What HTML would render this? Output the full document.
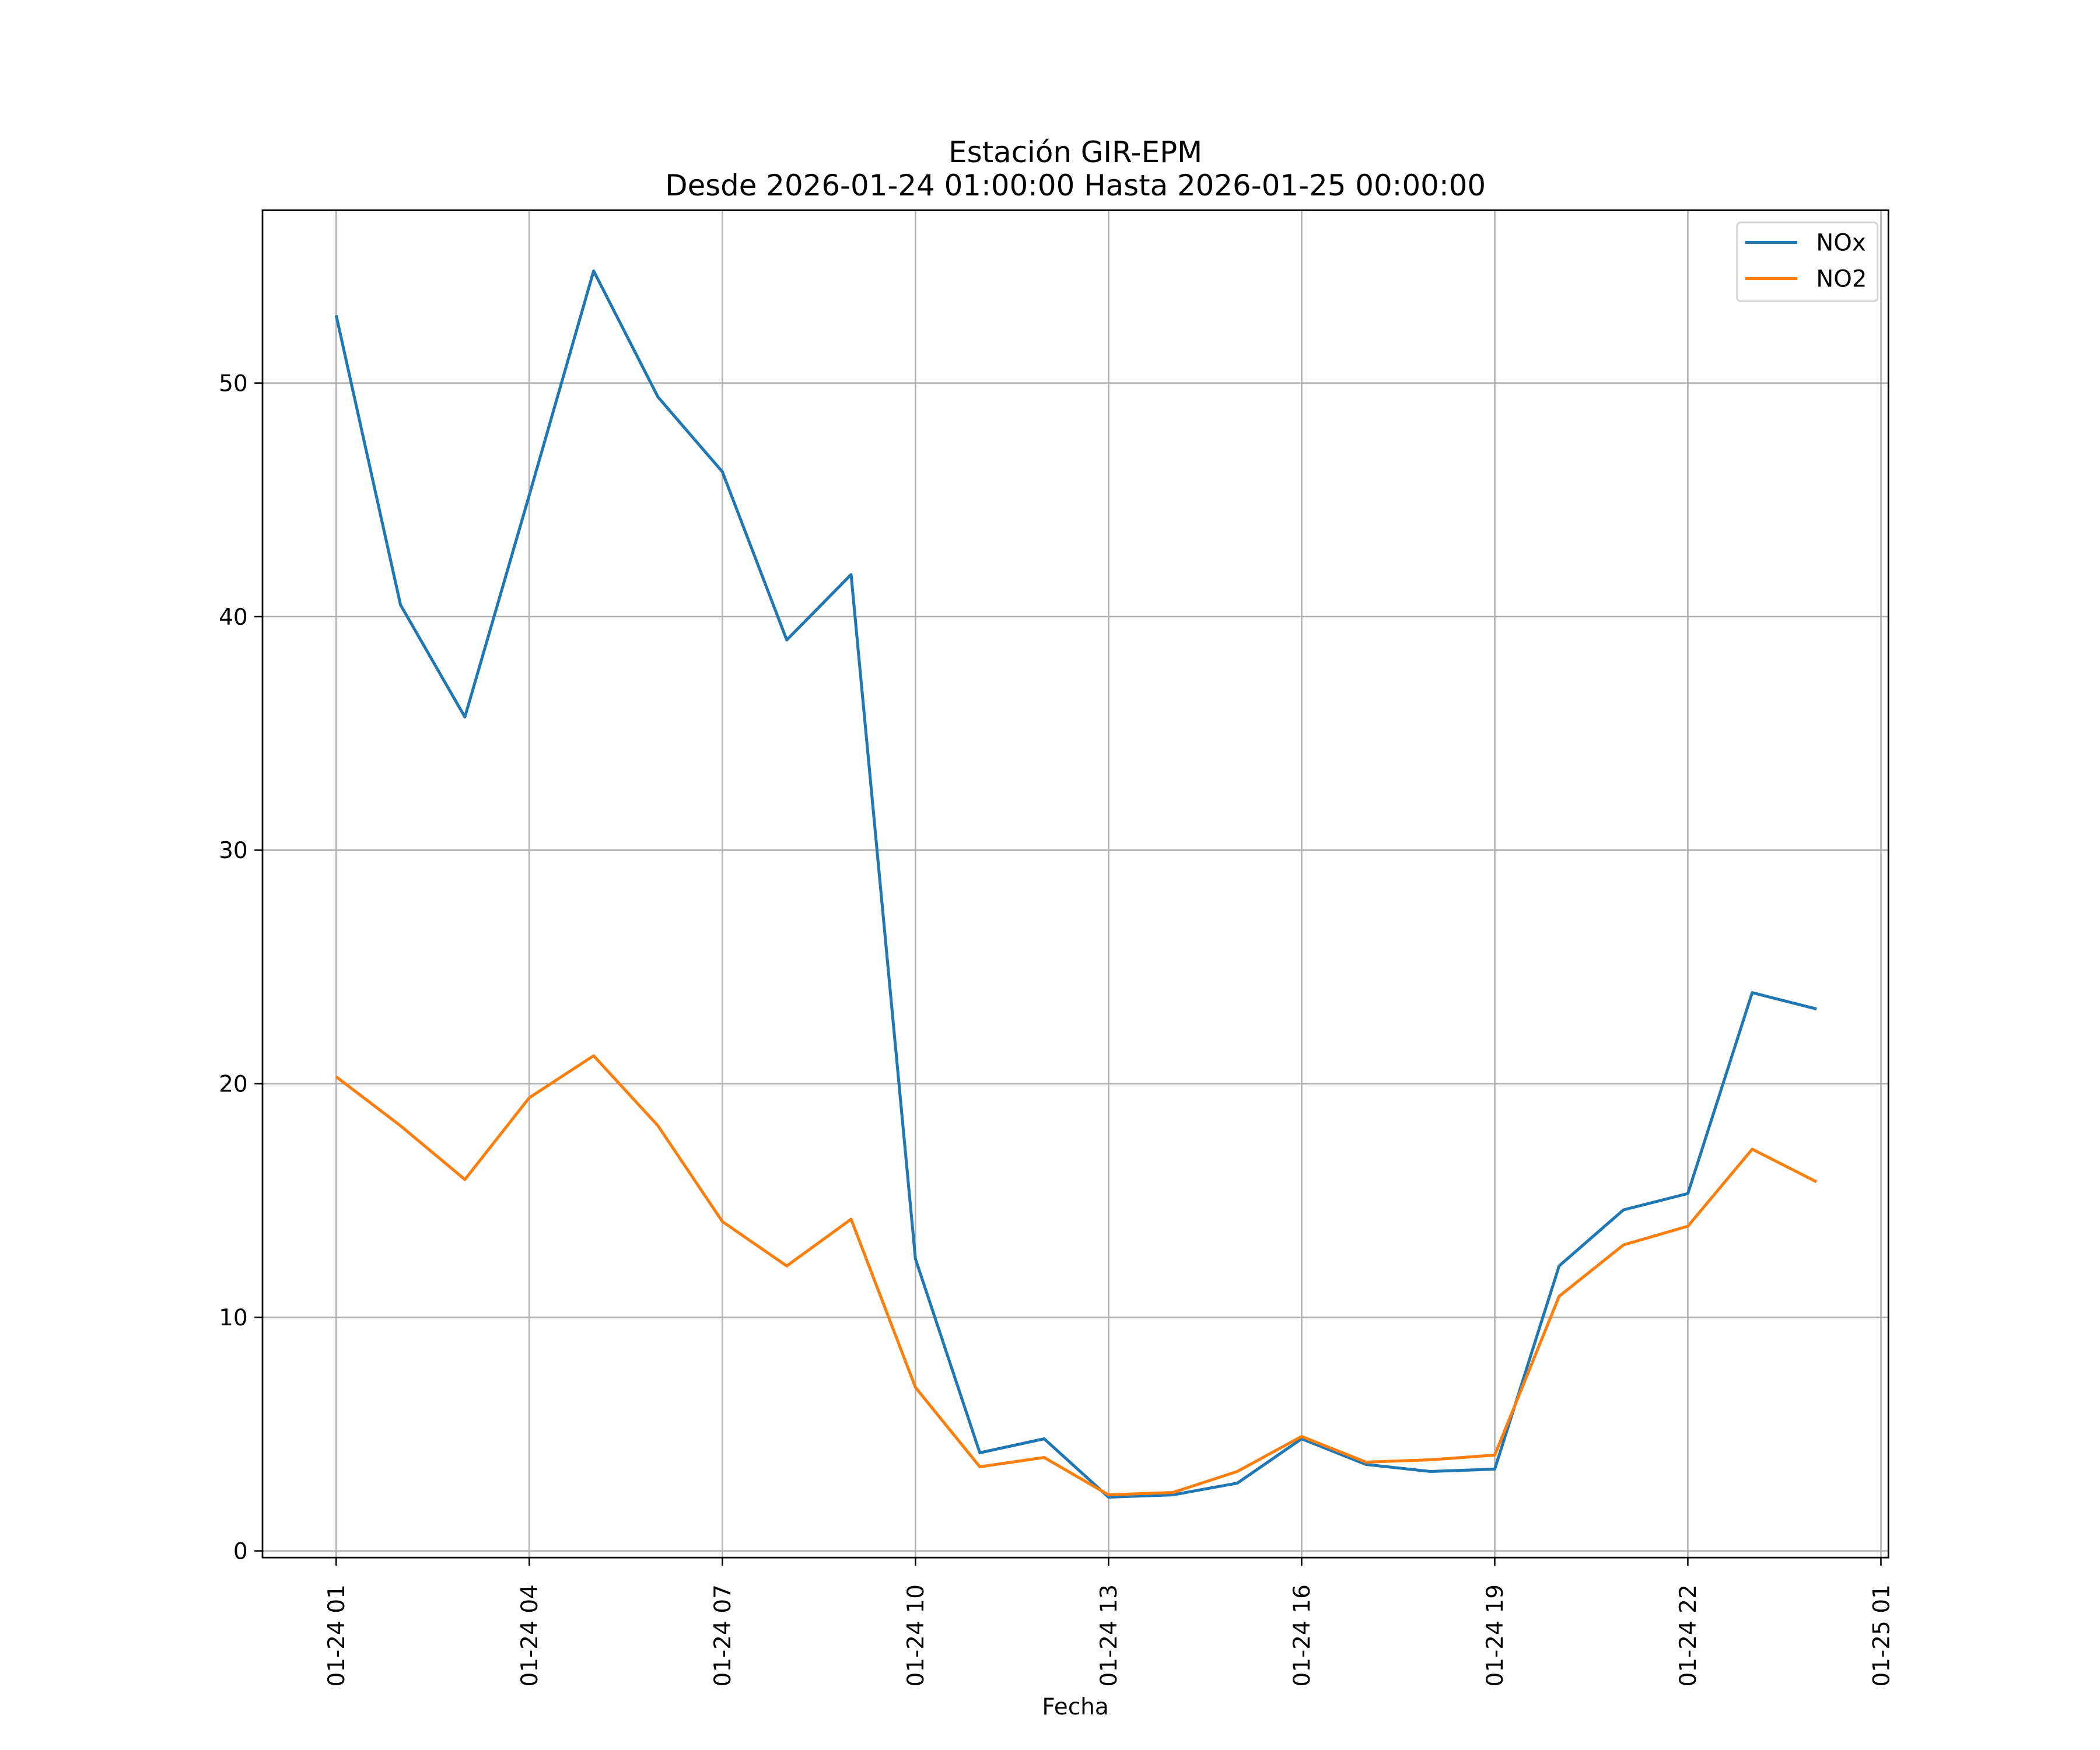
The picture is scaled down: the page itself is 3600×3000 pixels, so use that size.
<!DOCTYPE html>
<html><head><meta charset="utf-8"><style>
html,body{margin:0;padding:0;background:#fff;}
svg{display:block;}
text{font-family:"DejaVu Sans","Liberation Sans",sans-serif;fill:#000;}
</style></head><body>
<svg id="chart" width="3600" height="3000" viewBox="0 0 1568 1306.67" xmlns="http://www.w3.org/2000/svg">
<rect width="1568" height="1307" fill="#fff"/>
<g id="grid"></g>
<g id="series"></g>
<rect x="196" y="157" width="1214" height="1006" fill="none" stroke="#000" stroke-width="1.2"/>
<g id="ticks"></g>
<text x="803" y="121" font-size="21.7" text-anchor="middle">Estación GIR-EPM</text>
<text x="803" y="146" font-size="21.7" text-anchor="middle">Desde 2026-01-24 01:00:00 Hasta 2026-01-25 00:00:00</text>
<text x="803" y="1280" font-size="17" text-anchor="middle">Fecha</text>
<g>
<rect x="1297" y="166" width="105" height="59" fill="#fff" stroke="#d5d5d5" stroke-width="1.3" rx="3"/>
<line x1="1303" y1="181" x2="1342" y2="181" stroke="#1f77b4" stroke-width="2.2"/>
<text x="1356" y="187" font-size="17.5">NOx</text>
<line x1="1303" y1="208" x2="1342" y2="208" stroke="#ff7f0e" stroke-width="2.2"/>
<text x="1356" y="214" font-size="17.5">NO2</text>
</g>
</svg>
<script>
const hours = [1,2,3,4,5,6,7,8,9,10,11,12,13,14,15,16,17,18,19,20,21,22,23,24];
const noxValues = [52.9,40.5,35.7,45.2,54.8,49.4,46.2,39.0,41.8,12.5,4.2,4.8,2.3,2.4,2.9,4.8,3.7,3.4,3.5,12.2,14.6,15.3,23.9,23.2];
const no2Values = [20.3,18.2,15.9,19.4,21.2,18.2,14.1,12.2,14.2,7.0,3.6,4.0,2.4,2.5,3.4,4.9,3.8,3.9,4.1,10.9,13.1,13.9,17.2,15.8];
const yTicks = [0,10,20,30,40,50];
const xTickHours = [1,4,7,10,13,16,19,22,25];
const xTickLabels = ["01-24 01","01-24 04","01-24 07","01-24 10","01-24 13","01-24 16","01-24 19","01-24 22","01-25 01"];

const NS="http://www.w3.org/2000/svg";
function xs(h){return 251+(h-1)*48.06;}
function ys(v){return 1158-v*17.44;}
function mk(tag,attrs,parent){const e=document.createElementNS(NS,tag);for(const k in attrs)e.setAttribute(k,attrs[k]);parent.appendChild(e);return e;}
const grid=document.getElementById('grid'),ticks=document.getElementById('ticks'),series=document.getElementById('series');
yTicks.forEach(v=>{
  const y=ys(v);
  const g=mk('line',{x1:196,x2:1410,y1:y,y2:y,stroke:'#b0b0b0','stroke-width':1.1},grid);
  
  
  mk('line',{x1:190,x2:196,y1:y,y2:y,stroke:'#000','stroke-width':1.1},ticks);
  const t=mk('text',{x:185,y:y+6,'font-size':17,'text-anchor':'end'},ticks);
  t.textContent=v;
  
  
});
xTickHours.forEach((h,i)=>{
  const x=xs(h);
  const g=mk('line',{x1:x,x2:x,y1:157,y2:1163,stroke:'#b0b0b0','stroke-width':1.1},grid);
  
  
  mk('line',{x1:x,x2:x,y1:1163,y2:1169,stroke:'#000','stroke-width':1.1},ticks);
  const t=mk('text',{x:0,y:0,'font-size':17,'text-anchor':'end',transform:`translate(${x+6},1183) rotate(-90)`},ticks);
  t.textContent=xTickLabels[i];
  
  
});
function line(vals,color,name){
  const p=mk('polyline',{points:vals.map((v,i)=>xs(hours[i])+','+ys(v)).join(' '),fill:'none',stroke:color,'stroke-width':2.2,'stroke-linejoin':'round'},series);
  
  
}
line(noxValues,'#1f77b4','nox-line');
line(no2Values,'#ff7f0e','no2-line');
</script>
</body></html>
